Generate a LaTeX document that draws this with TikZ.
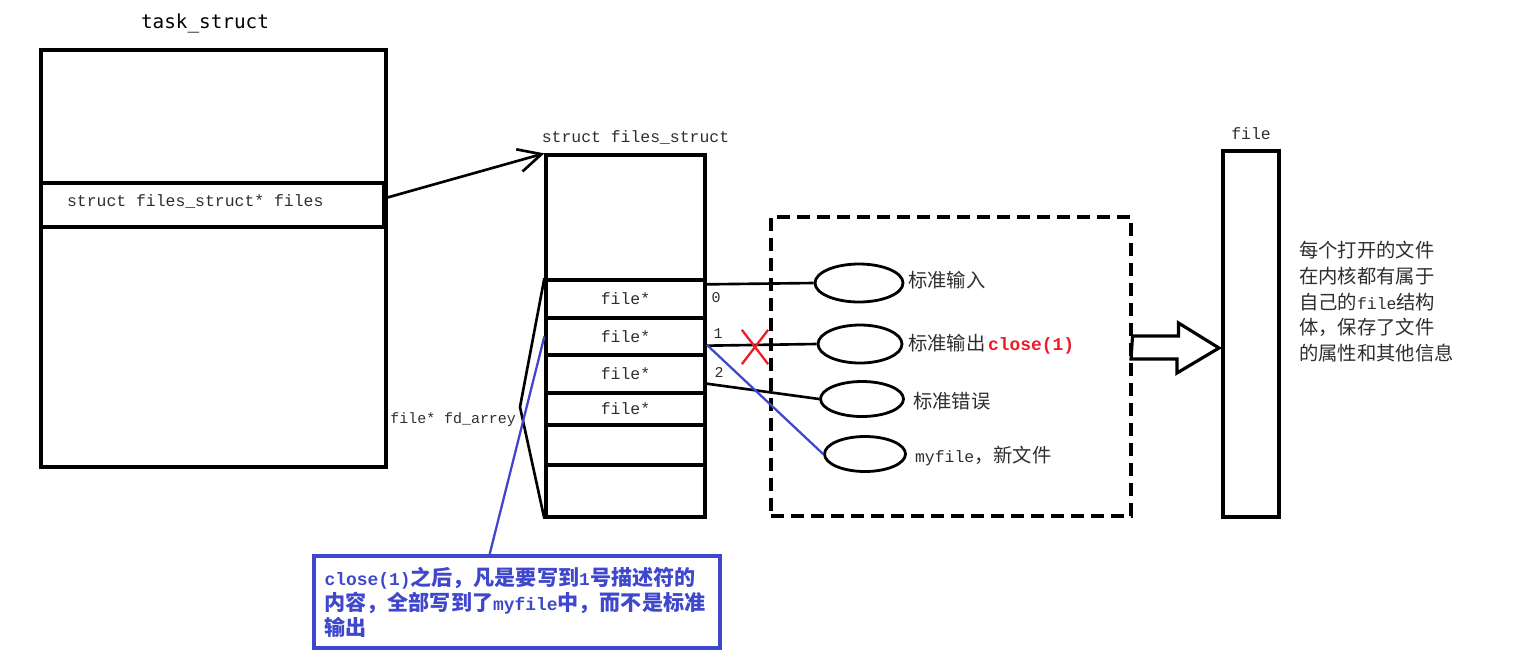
\documentclass[tikz,border=0pt]{standalone}
\usepackage{fontspec}
\setmainfont{Liberation Mono}[Scale=0.85]
\newfontfamily\cjk{Noto Sans CJK SC}
\newfontfamily\titlefont{DejaVu Sans Mono}
\usetikzlibrary{positioning, shapes.geometric, shapes.misc, arrows.meta, calc}
\definecolor{ink}{HTML}{000000}
\definecolor{txt}{HTML}{2e2e2e}
\definecolor{callblue}{HTML}{3f48cc}
\definecolor{cutred}{HTML}{ed1c24}
\newcommand{\zh}[1]{{\cjk #1}}

\begin{document}
\begin{tikzpicture}[x=0.02cm, y=-0.02cm, font=\fontsize{11}{14}\selectfont,
  box/.style={draw=ink, line width=1.9pt, inner sep=0pt},
  slot/.style={box, text=txt, minimum width=3.18cm},
  fobj/.style={draw=ink, ellipse, line width=1.6pt, inner sep=0pt},
  lbl/.style={text=txt, inner sep=1pt},
  link/.style={ink, line width=1.5pt},
  blink/.style={callblue, line width=1.3pt}
]
  \useasboundingbox (0,0) rectangle (1520,660);

  % task_struct
  \node[box, minimum width=6.9cm, minimum height=8.34cm] (task) at (213.5,258.5) {};
  \node[font=\titlefont\fontsize{11}{13}\selectfont, above=0.2cm of task, xshift=-0.17cm] (tasktitle) {task\_struct};
  \node[box, minimum width=6.86cm, minimum height=0.88cm] (filesptr) at (212.5,205) {};
  \node[lbl, anchor=west] (ptrtext) at (65,201) {struct files\_struct* files};

  % files_struct
  \node[box, minimum width=3.18cm, minimum height=7.24cm] (fstruct) at (625.5,336) {};
  \node[lbl, above=0.15cm of fstruct, xshift=0.2cm] (fstitle) {struct files\_struct};
  \node[slot, minimum height=0.76cm] (fd0) at (625.5,299) {file*};
  \node[slot, minimum height=0.74cm] (fd1) at (625.5,336.5) {file*};
  \node[slot, minimum height=0.76cm] (fd2) at (625.5,374) {file*};
  \node[slot, minimum height=0.64cm] (fd3) at (625.5,409) {file*};
  \node[slot, minimum height=0.80cm] (fd4) at (625.5,445) {};
  \node[slot, minimum height=1.04cm] (fd5) at (625.5,491) {};
  \node[lbl, font=\fontsize{10}{12}\selectfont] (n0) at (716,298) {0};
  \node[lbl, font=\fontsize{10}{12}\selectfont] (n1) at (718,334) {1};
  \node[lbl, font=\fontsize{10}{12}\selectfont] (n2) at (719,372) {2};

  \coordinate (brk) at (520,407);
  \draw[link] (fd0.north west) -- (brk) -- (fd5.south west);
  \node[lbl, font=\fontsize{10}{12}\selectfont, anchor=east] (fdarr) at (518,420) {file* fd\_arrey};

  \draw[link, -{Straight Barb[length=4.6mm, width=4.6mm]}] ([yshift=0.14cm]filesptr.east) -- (fstruct.north west);

  % opened files
  \node[draw=ink, line width=1.8pt, dash pattern=on 0.26cm off 0.14cm, minimum width=7.2cm, minimum height=5.98cm] (kernel) at (951,366.5) {};
  \node[fobj, minimum width=1.76cm, minimum height=0.76cm] (stdin) at (859,283) {};
  \node[fobj, minimum width=1.68cm, minimum height=0.76cm] (stdout) at (860,344) {};
  \node[fobj, minimum width=1.66cm, minimum height=0.70cm] (stderr) at (862,399) {};
  \node[fobj, minimum width=1.62cm, minimum height=0.70cm] (myfile) at (865,454) {};
  \node[lbl, anchor=west] (stdinlbl) at (906,280) {\zh{标准输入}};
  \node[lbl, anchor=west] (stdoutlbl) at (906,344) {\zh{标准输出}\,\textcolor{cutred}{\bfseries\fontsize{12}{14}\selectfont close(1)}};
  \node[lbl, anchor=west] (stderrlbl) at (911,401) {\zh{标准错误}};
  \node[lbl, anchor=west] (myfilelbl) at (913,456) {myfile\zh{，新文件}};

  \draw[link] ([yshift=-0.12cm]fd0.north east) -- (stdin.west);
  \draw[link] ([yshift=0.22cm]fd1.south east) -- (stdout.west);
  \draw[link] ([yshift=0.22cm]fd2.south east) -- (stderr.west);
  \draw[blink] ([yshift=0.24cm]fd1.south east) -- (myfile.west);
  \node[cross out, draw=cutred, line width=1.3pt, minimum width=0.48cm, minimum height=0.64cm, inner sep=0pt] (xmark) at (755,347) {};

  % file
  \node[box, minimum width=1.12cm, minimum height=7.32cm] (filebox) at (1251,334) {};
  \node[lbl, above=0.16cm of filebox] (filetitle) {file};
  \coordinate (tip) at (1219,348);
  \draw[line width=1.8pt, line join=miter] (kernel.east) ++(0,-30.5) -- ++(46,0) -- ++(0,-13) -- (tip) -- ++(-42,25) -- ++(0,-14) -- ++(-46,0) -- cycle;
  \node[lbl, anchor=north west, align=left, font=\cjk\fontsize{11}{14.7}\selectfont] (filenote) at (1297,239) {每个打开的文件\\在内核都有属于\\自己的{\rmfamily file}结构\\体，保存了文件\\的属性和其他信息};

  % note
  \node[draw=callblue, line width=1.8pt, text=callblue, minimum width=8.12cm, minimum height=1.84cm, text width=7.7cm, align=left, font=\bfseries\fontsize{12}{14.2}\selectfont] (note) at (517,602) {close(1)\zh{之后，凡是要写到}1\zh{号描述符的}\\\zh{内容，全部写到了}myfile\zh{中，而不是标准}\\\zh{输出}};
  \draw[blink] (fd1.west) -- ($(note.north west)!0.433!(note.north east)$);
\end{tikzpicture}
\end{document}
